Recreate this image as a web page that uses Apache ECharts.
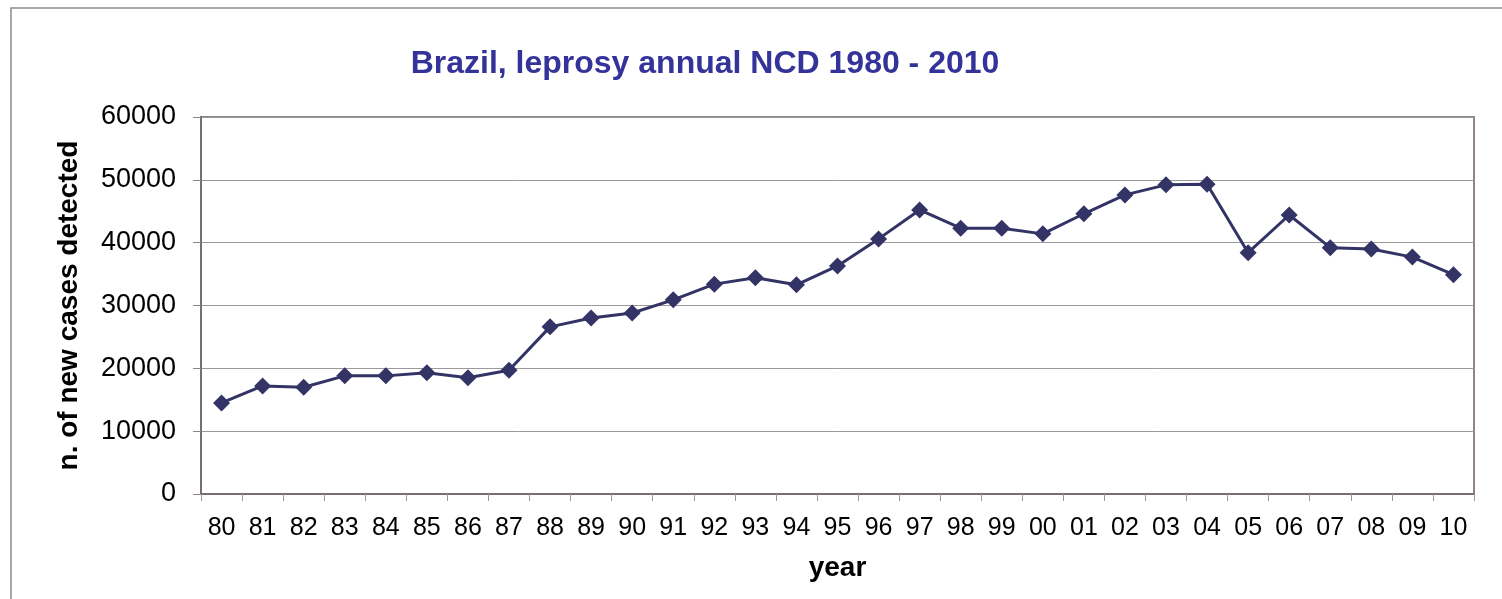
<!DOCTYPE html>
<html>
<head>
<meta charset="utf-8">
<script src="https://cdn.jsdelivr.net/npm/echarts@6/dist/echarts.min.js"></script>
<style>html,body{margin:0;padding:0;background:#fff}#c{width:1502px;height:599px}</style>
</head>
<body>
<div id="c"></div>
<script>
const years = ['80','81','82','83','84','85','86','87','88','89','90','91','92','93','94','95','96','97','98','99','00','01','02','03','04','05','06','07','08','09','10'];
const newCases = [14500,17200,17000,18800,18800,19300,18500,19700,26600,28000,28800,30900,33400,34400,33300,36300,40600,45200,42300,42300,41400,44600,47600,49200,49300,38400,44400,39200,39000,37700,34900];
const yTicks = [0,10000,20000,30000,40000,50000,60000];

const chart = echarts.init(document.getElementById('c'));
chart.setOption({
  animation: false,
  backgroundColor: '#fff',
  graphic: [{
    type: 'rect', shape: {x: 11, y: 8, width: 1520, height: 620},
    style: {fill: 'none', stroke: '#8c8c8c', lineWidth: 1.5}, silent: true, z: -1
  }],
  title: {
    text: 'Brazil, leprosy annual NCD 1980 - 2010',
    left: 700, top: 43, textAlign: 'center',
    textStyle: {fontFamily: 'Liberation Sans', fontWeight: 'bold', fontSize: 32, color: '#333399'}
  },
  grid: {left: 201, right: 28, top: 117, bottom: 105, show: true, borderColor: '#8f8482', borderWidth: 2, backgroundColor: 'transparent'},
  xAxis: {
    type: 'category', data: years, boundaryGap: true,
    name: 'year', nameLocation: 'middle', nameGap: 60,
    nameTextStyle: {fontFamily: 'Liberation Sans', fontWeight: 'bold', fontSize: 28, color: '#000'},
    axisLine: {lineStyle: {color: '#7a6e6c', width: 2}},
    axisTick: {show: true, alignWithLabel: false, length: 7, lineStyle: {color: '#999'}},
    axisLabel: {fontFamily: 'Liberation Sans', fontSize: 25, color: '#000', margin: 22, interval: 0},
    splitLine: {show: false}
  },
  yAxis: {
    type: 'value', min: 0, max: 60000, interval: 10000,
    name: 'n. of new cases detected', nameLocation: 'middle', nameGap: 118, nameRotate: 90,
    nameTextStyle: {fontFamily: 'Liberation Sans', fontWeight: 'bold', fontSize: 28, color: '#000'},
    axisLine: {show: true, lineStyle: {color: '#7a6e6c', width: 2}},
    axisTick: {show: true, length: 8, lineStyle: {color: '#888'}},
    axisLabel: {fontFamily: 'Liberation Sans', fontSize: 27, color: '#000', margin: 25,
      formatter: v => yTicks.includes(v) ? String(v) : ''},
    splitLine: {show: true, lineStyle: {color: '#9a9a9a', width: 1}}
  },
  series: [{
    type: 'line', data: newCases,
    symbol: 'diamond', symbolSize: 17,
    lineStyle: {color: '#333366', width: 3},
    itemStyle: {color: '#333366'}
  }]
});
</script>
</body>
</html>
